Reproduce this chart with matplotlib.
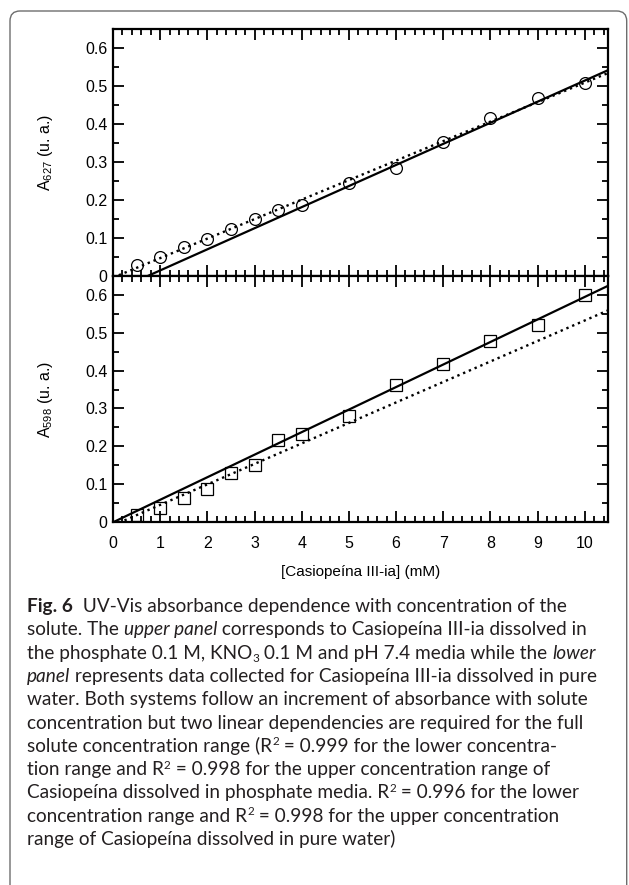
import matplotlib
matplotlib.use('Agg')
import matplotlib.pyplot as plt
from matplotlib.patches import FancyBboxPatch
from matplotlib.ticker import MultipleLocator, FuncFormatter

plt.rcParams['font.family'] = ['Liberation Sans', 'DejaVu Sans']
plt.rcParams['mathtext.fontset'] = 'custom'
plt.rcParams['mathtext.rm'] = 'Liberation Sans'
plt.rcParams['mathtext.it'] = 'Liberation Sans:italic'

# concentration (mM)
conc = [0.5, 1, 1.5, 2, 2.5, 3, 3.5, 4, 5, 6, 7, 8, 9, 10]
# upper panel: phosphate media, A627
a627 = [0.027, 0.049, 0.075, 0.097, 0.123, 0.148, 0.174, 0.187,
        0.245, 0.284, 0.353, 0.414, 0.468, 0.506]
# lower panel: pure water, A598
a598 = [0.019, 0.039, 0.065, 0.089, 0.129, 0.151, 0.217, 0.232,
        0.281, 0.361, 0.418, 0.478, 0.521, 0.600]

# linear fits (slope, intercept)
fit627_upper = (0.0555, -0.0416)
fit627_lower = (0.0513, -0.005)
fit598_upper = (0.0594, 0.0)
fit598_lower = (0.0540, -0.0081)

x_line = [0, 10.5]

caption = [
    [("Fig. 6", 'b'), ("  UV-Vis absorbance dependence with concentration of the", 'r')],
    [("solute. The ", 'r'), ("upper panel", 'i'), (" corresponds to Casiopeína III-ia dissolved in", 'r')],
    [("the phosphate 0.1 M, KNO", 'r'), ("3", 'sub'), (" 0.1 M and pH 7.4 media while the ", 'r'), ("lower", 'i')],
    [("panel", 'i'), (" represents data collected for Casiopeína III-ia dissolved in pure", 'r')],
    [("water. Both systems follow an increment of absorbance with solute", 'r')],
    [("concentration but two linear dependencies are required for the full", 'r')],
    [("solute concentration range (R", 'r'), ("2", 'sup'), (" = 0.999 for the lower concentra-", 'r')],
    [("tion range and R", 'r'), ("2", 'sup'), (" = 0.998 for the upper concentration range of", 'r')],
    [("Casiopeína dissolved in phosphate media. R", 'r'), ("2", 'sup'), (" = 0.996 for the lower", 'r')],
    [("concentration range and R", 'r'), ("2", 'sup'), (" = 0.998 for the upper concentration", 'r')],
    [("range of Casiopeína dissolved in pure water)", 'r')],
]

W, H = 629, 885
fig = plt.figure(figsize=(W / 100, H / 100), dpi=100)

left, right = 113, 608.3
y_top, y_mid, y_bot = 28.7, 275.7, 522.3
ax1 = fig.add_axes([left / W, 1 - y_mid / H, (right - left) / W, (y_mid - y_top) / H])
ax2 = fig.add_axes([left / W, 1 - y_bot / H, (right - left) / W, (y_bot - y_mid) / H])


def line_of(fit):
    return [fit[0] * x + fit[1] for x in x_line]


def yfmt(v, pos):
    return '0' if abs(v) < 1e-9 else '%.1f' % v


for ax, y, mk, fu, fl, lab in [
        (ax1, a627, 'o', fit627_upper, fit627_lower, r'A$_{627}$ (u. a.)'),
        (ax2, a598, 's', fit598_upper, fit598_lower, r'A$_{598}$ (u. a.)')]:
    ax.plot(x_line, line_of(fu), color='black', lw=1.6, solid_capstyle='butt')
    ax.plot(x_line, line_of(fl), color='black', lw=1.7, ls=':')
    ax.plot(conc, y, ls='none', marker=mk, ms=8.5 if mk == 'o' else 8,
            mfc='none', mec='black', mew=0.9)
    ax.set_xlim(0, 10.5)
    ax.set_ylim(0, 0.65)
    ax.xaxis.set_major_locator(MultipleLocator(1))
    ax.xaxis.set_minor_locator(MultipleLocator(0.2))
    ax.yaxis.set_major_locator(MultipleLocator(0.1))
    ax.yaxis.set_minor_locator(MultipleLocator(0.05))
    ax.yaxis.set_major_formatter(FuncFormatter(yfmt))
    ax.tick_params(which='both', direction='in', top=True, right=True,
                   width=1.3, labelsize=11.5, colors='black')
    ax.tick_params(which='major', length=8, pad=4)
    ax.tick_params(which='minor', length=4.5)
    ax.tick_params(axis='x', which='major', pad=10)
    for s in ax.spines.values():
        s.set_linewidth(1.6)
    ax.set_ylabel(lab, fontsize=11.5)
    ax.yaxis.set_label_coords(-0.118, 0.5)

ax1.tick_params(axis='x', labelbottom=False)
ax2.set_xlabel('[Casiopeína III-ia] (mM)', fontsize=11)
ax2.xaxis.set_label_coords(0.5, -0.172)
ax2.xaxis.label.set_va('top')

# rounded frame around the figure
frame = FancyBboxPatch((0.10, -0.3), 6.167, 8.74 + 0.3,
                       boxstyle='round,pad=0,rounding_size=0.1',
                       transform=fig.dpi_scale_trans, fill=False,
                       edgecolor='#6d6d6d', lw=1.0)
fig.patches.append(frame)

# caption, drawn segment by segment
r = fig.canvas.get_renderer()
cap_font = ['Lato', 'DejaVu Sans']
cap_size = 13.7
styles = {
    'r': dict(fontweight='normal', fontstyle='normal', size=cap_size, dy=0),
    'i': dict(fontweight='normal', fontstyle='italic', size=cap_size, dy=0),
    'b': dict(fontweight='bold', fontstyle='normal', size=cap_size, dy=0),
    'sub': dict(fontweight='normal', fontstyle='normal', size=cap_size * 0.62, dy=-3.8),
    'sup': dict(fontweight='normal', fontstyle='normal', size=cap_size * 0.62, dy=6.5),
}


def seg_width(s, st):
    kw = dict(family=cap_font, fontweight=st['fontweight'],
              fontstyle=st['fontstyle'], fontsize=st['size'])
    t1 = fig.text(0, 0, '|' + s + '|', **kw)
    t2 = fig.text(0, 0, '||', **kw)
    w = t1.get_window_extent(r).width - t2.get_window_extent(r).width
    t1.remove()
    t2.remove()
    return w


x0, base0, step = 27, 612, 23.3
for i, parts in enumerate(caption):
    x = x0
    yb = H - (base0 + step * i)
    for s, key in parts:
        st = styles[key]
        fig.text(x / 100, (yb + st['dy']) / 100, s, transform=fig.dpi_scale_trans,
                 family=cap_font, fontweight=st['fontweight'],
                 fontstyle=st['fontstyle'], fontsize=st['size'],
                 va='baseline', ha='left', color='#231f20')
        x += seg_width(s, st)

fig.savefig('out.png', dpi=100)
